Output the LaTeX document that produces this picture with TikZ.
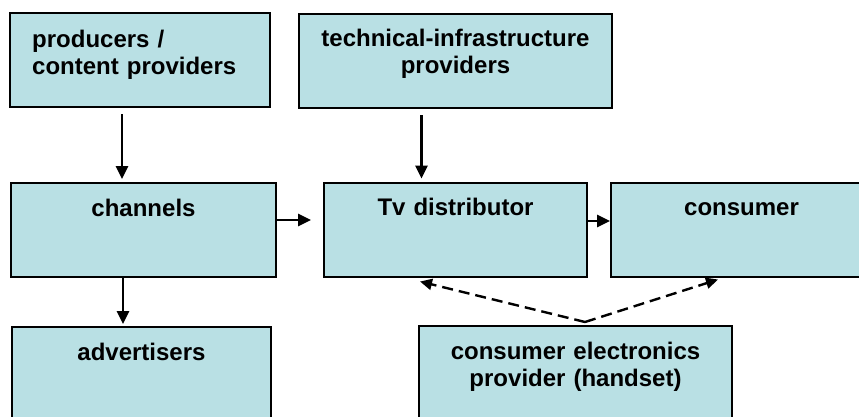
\documentclass[tikz,border=0pt]{standalone}
\usepackage{fontspec}
\setmainfont{Liberation Sans}
\usetikzlibrary{arrows.meta,calc}
\definecolor{boxfill}{RGB}{185,224,228}
\begin{document}
\begin{tikzpicture}[x=1pt,y=-1pt,
  panel/.style={draw=black, line width=2pt, fill=boxfill, inner sep=0pt,
                minimum width=#1, minimum height=94pt},
  boxtext/.style={font=\bfseries\fontsize{24}{27}\selectfont, inner sep=0pt,
                  text width=#1, align=center, anchor=base},
  arr/.style={-{Triangle[length=13pt,width=12pt]}, line width=2.6pt},
  dasharr/.style={-{Triangle[length=12pt,width=11pt]}, line width=2.4pt,
                  dash pattern=on 11pt off 6pt}]
\useasboundingbox (0,0) rectangle (859,416);
\clip (0,0) rectangle (859,416);

% boxes
\node[panel=260pt] (prod) at (140,60) {};
\node[panel=313pt] (tech) at (455.5,61) {};
\node[panel=265pt] (chan) at (143.5,230) {};
\node[panel=263pt] (tv)   at (455.5,229.5) {};
\node[panel=261pt] (cons) at (741.5,229.5) {};
\node[panel=259pt] (adv)  at (141.5,374) {};
\node[panel=313pt] (ce)   at (575.5,373) {};

% box texts
\node[boxtext=235pt, align=left, anchor=base west] (prodt) at (32,47)
  {producers /\\content providers};
\node[boxtext=300pt] (techt) at ($(tech.north)+(0,33)$)
  {technical-infrastructure\\providers};
\node[boxtext=250pt] (chant) at ($(chan.north)+(0,34)$) {channels};
\node[boxtext=250pt] (tvt)   at ($(tv.north)+(0,34)$) {Tv distributor};
\node[boxtext=250pt] (const) at ($(cons.north)+(0,34)$) {consumer};
\node[boxtext=250pt] (advt)  at ($(adv.north)+(0,34)$) {advertisers};
\node[boxtext=300pt] (cet)   at ($(ce.north)+(0,34)$)
  {consumer electronics\\provider (handset)};

% solid arrows
\draw[arr, shorten <=6pt, shorten >=3pt]
  ($(prod.south)+(-18,0)$) -- ($(chan.north)+(-21.5,0)$);
\draw[arr, shorten <=6pt, shorten >=3pt]
  ($(tech.south)+(-34,0)$) -- ($(tv.north)+(-34,0)$);
\draw[arr, shorten >=12pt]
  ($(chan.east)+(0,-10)$) -- ($(tv.west)+(0,-9.5)$);
\draw[arr]
  ($(tv.east)+(0,-8.5)$) -- ($(cons.west)+(0,-8.5)$);
\draw[arr, shorten >=2pt]
  ($(chan.south)+(-20.5,0)$) -- ($(adv.north)+(-18.5,0)$);

% dashed arrows
\coordinate (cetop) at ($(ce.north)+(9.5,-3)$);
\draw[dasharr] (cetop) -- ($(tv.south)+(-35.5,4)$);
\draw[dasharr] (cetop) -- ($(cons.south)+(-23.5,2)$);
\end{tikzpicture}
\end{document}
